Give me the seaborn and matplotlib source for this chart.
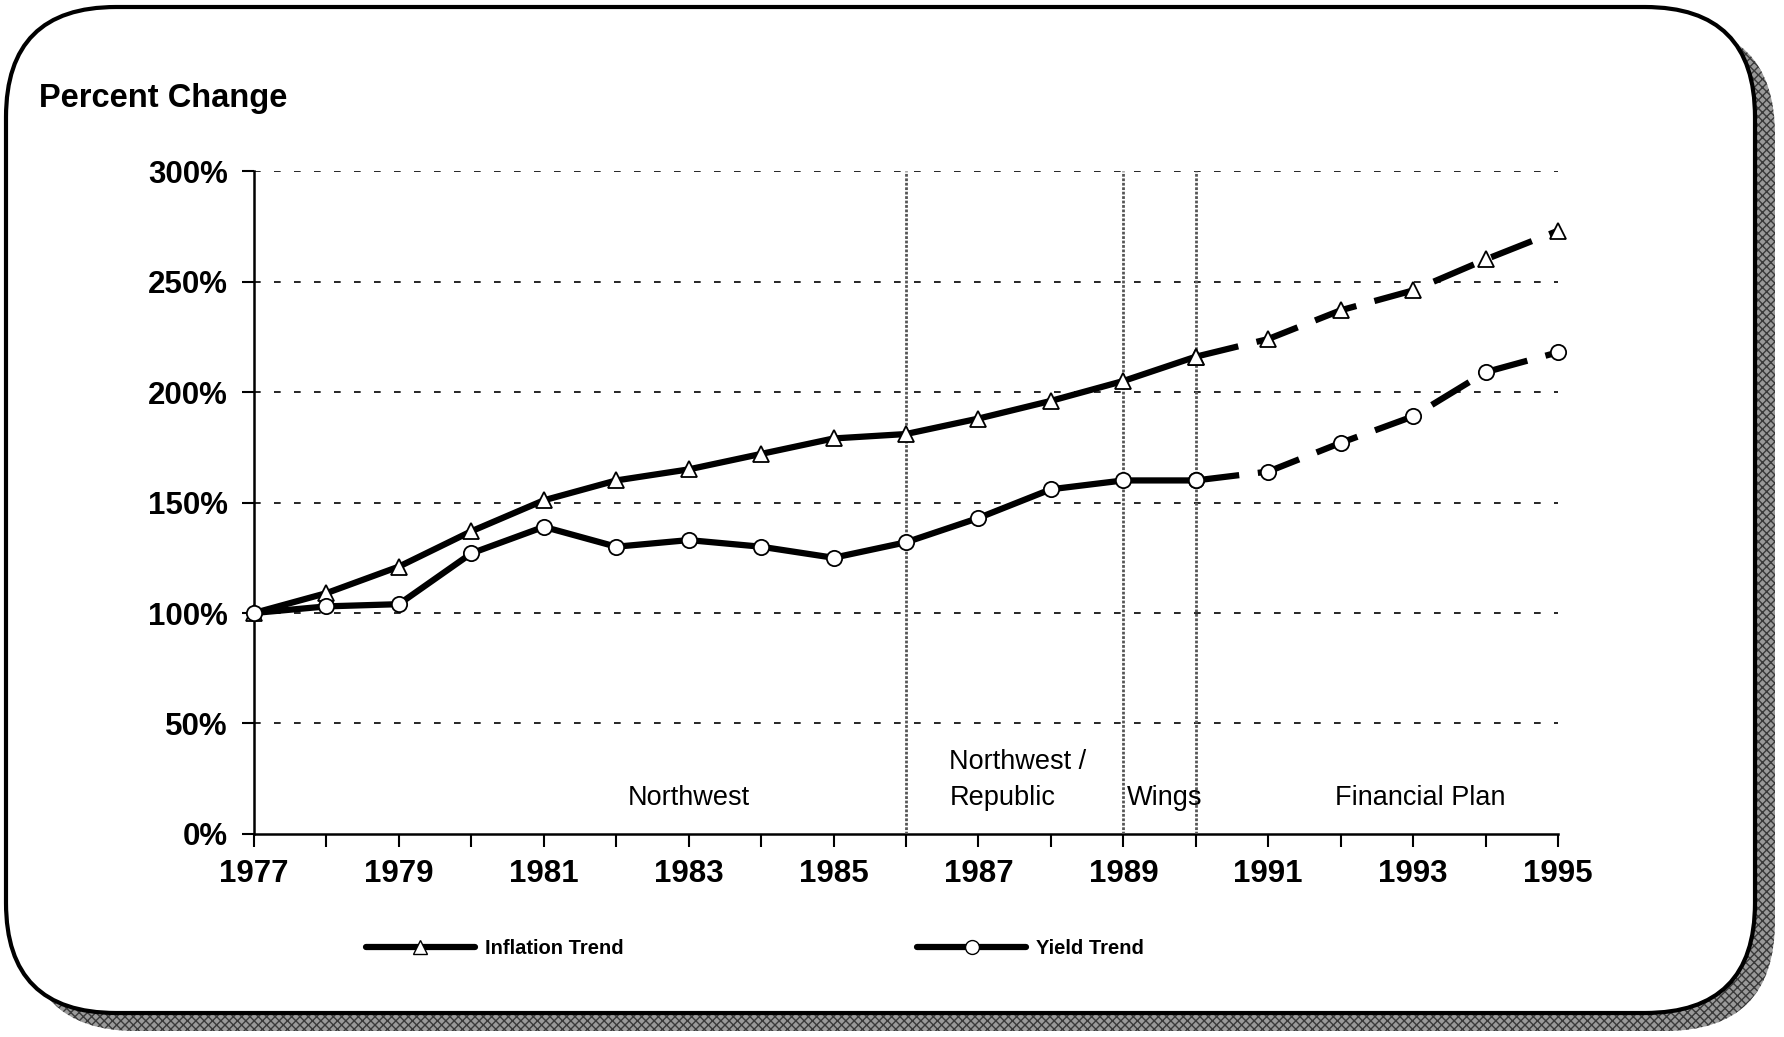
import pandas as pd
import seaborn as sns
import matplotlib as mpl
import matplotlib.pyplot as plt
from matplotlib.patches import FancyBboxPatch

mpl.use("agg")

YEARS = list(range(1977, 1996))
INFLATION = [100, 109, 121, 137, 151, 160, 165, 172, 179, 181,
             188, 196, 205, 216, 224, 237, 246, 260, 273]
YIELD = [100, 103, 104, 127, 139, 130, 133, 130, 125, 132,
         143, 156, 160, 160, 164, 177, 189, 209, 218]
LAST_ACTUAL = 1990
ERA_LINES = [1986, 1989, 1990]
ERA_LABELS = [
    (1983.0, 10.5, "Northwest", "center"),
    (1986.6, 10.5, "Northwest /\nRepublic", "left"),
    (1989.05, 10.5, "Wings", "left"),
    (1993.1, 10.5, "Financial Plan", "center"),
]

sns.set_style("white")
plt.rcParams["font.family"] = ["Liberation Sans", "DejaVu Sans"]
plt.rcParams["text.color"] = "black"
plt.rcParams["xtick.color"] = "black"
plt.rcParams["ytick.color"] = "black"

df = pd.DataFrame({"year": YEARS, "Inflation Trend": INFLATION, "Yield Trend": YIELD})
actual = df[df.year <= LAST_ACTUAL]
plan = df[df.year >= LAST_ACTUAL]

W, H = 1784, 1037
fig = plt.figure(figsize=(W / 100, H / 100), dpi=100)

# background frame drawn in pixel units
bg = fig.add_axes([0, 0, 1, 1])
bg.set_xlim(0, W)
bg.set_ylim(0, H)
bg.axis("off")
bg.set_zorder(0)
shadow = FancyBboxPatch((26, 6), 1749, 1006,
                        boxstyle="round,pad=0,rounding_size=110",
                        facecolor="#9a9a9a", edgecolor="#3a3a3a",
                        hatch="xxxx", lw=0)
frame = FancyBboxPatch((6, 24), 1749, 1006,
                       boxstyle="round,pad=0,rounding_size=110",
                       facecolor="white", edgecolor="black", lw=3)
bg.add_patch(shadow)
bg.add_patch(frame)

ax = fig.add_axes([0.1424, 0.1958, 0.7309, 0.6392])
ax.set_facecolor("none")
ax.set_zorder(2)

for col, mk in [("Inflation Trend", "^"), ("Yield Trend", "o")]:
    sns.lineplot(data=actual, x="year", y=col, ax=ax, color="black", lw=4.5,
                 marker=mk, markersize=11, markerfacecolor="white",
                 markeredgecolor="black", markeredgewidth=1.3, zorder=4,
                 clip_on=False)
    sns.lineplot(data=plan, x="year", y=col, ax=ax, color="black", lw=4.5,
                 marker=mk, markersize=11, markerfacecolor="white",
                 markeredgecolor="black", markeredgewidth=1.3, zorder=4,
                 clip_on=False)
    ax.lines[-1].set_dashes((7, 3))

for x in ERA_LINES:
    ax.axvline(x, ymin=0, ymax=1, color="#555555", lw=2, ls=(0, (1, 0.6)), zorder=3)

for v in range(50, 301, 50):
    ax.plot([YEARS[0], YEARS[-1]], [v, v], color="black", lw=1.2,
            ls=(0, (4, 8)), zorder=1)

for x, y, txt, ha in ERA_LABELS:
    ax.text(x, y, txt, ha=ha, va="bottom", fontsize=19.5, linespacing=1.5)

ax.set_xlim(YEARS[0], YEARS[-1])
ax.set_ylim(0, 300)
ax.set_xticks(YEARS)
ax.set_xticklabels([str(y) if (y - 1977) % 2 == 0 else "" for y in YEARS])
ax.set_yticks(range(0, 301, 50))
ax.set_yticklabels([f"{v}%" for v in range(0, 301, 50)])
ax.tick_params(axis="both", direction="out", length=9, width=1.5,
               labelsize=22.5, color="black", labelcolor="black",
               bottom=True, left=True)
for lbl in ax.get_xticklabels() + ax.get_yticklabels():
    lbl.set_fontweight("bold")
ax.tick_params(axis="x", pad=9)
ax.tick_params(axis="y", pad=10)
ax.set_xlabel("")
ax.set_ylabel("")
sns.despine(ax=ax, top=True, right=True)
for side in ("left", "bottom"):
    ax.spines[side].set_linewidth(1.8)
    ax.spines[side].set_color("black")
if ax.get_legend() is not None:
    ax.get_legend().remove()

fig.text(0.022, 0.905, "Percent Change", fontsize=23.5, fontweight="bold", va="center")

# legend
handles = [
    plt.Line2D([], [], color="black", lw=4.5, marker="^", markersize=10,
               markerfacecolor="white", markeredgecolor="black"),
    plt.Line2D([], [], color="black", lw=4.5, marker="o", markersize=10,
               markerfacecolor="white", markeredgecolor="black"),
]
fig.legend(handles, ["Inflation Trend", "Yield Trend"], loc="center left",
           bbox_to_anchor=(0.195, 0.085), ncol=2, frameon=False,
           handlelength=5.4, handletextpad=0.5, columnspacing=14.6,
           prop={"size": 14.5, "weight": "bold"})

fig.savefig("out.png", dpi=100)
